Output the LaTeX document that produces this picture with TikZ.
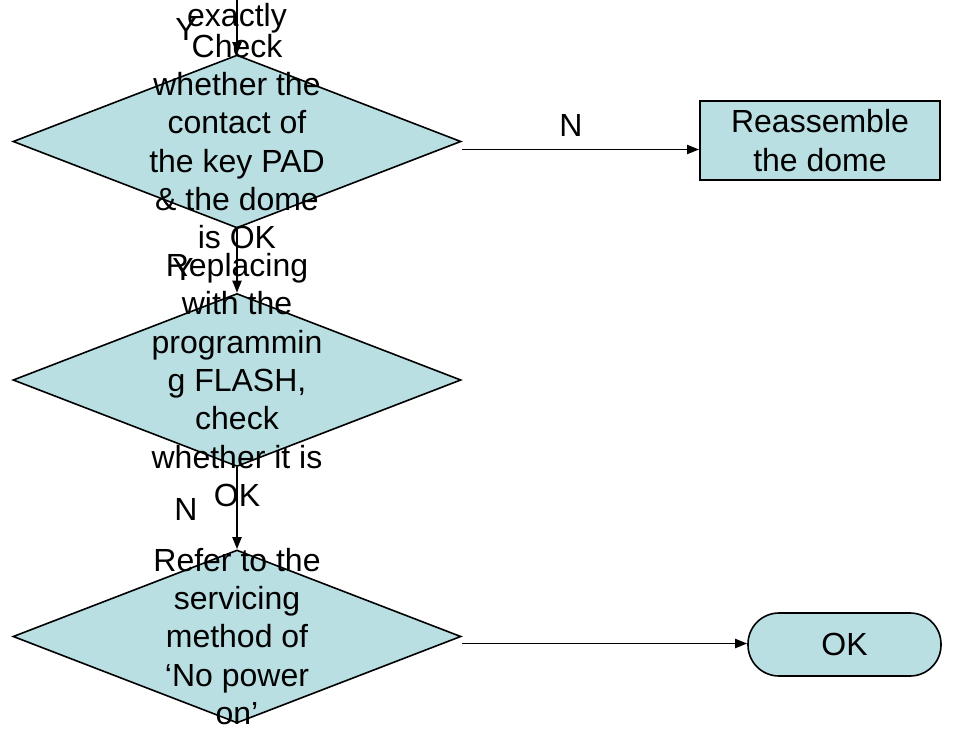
\documentclass[tikz,border=0pt]{standalone}
\usepackage{fontspec}
\setmainfont{Liberation Sans}
\usetikzlibrary{shapes.geometric,arrows.meta}
\definecolor{boxfill}{RGB}{185,223,227}
\begin{document}
\begin{tikzpicture}[x=1pt,y=-1pt,
  every node/.style={font=\fontsize{32}{38.3}\selectfont},
  decision/.style={diamond, draw=black, line width=1.6pt, fill=boxfill,
    minimum width=448pt, minimum height=173pt, inner sep=0pt},
  actionbox/.style={rectangle, draw=black, line width=1.8pt, fill=boxfill,
    minimum width=240pt, minimum height=79pt, inner sep=0pt, align=center},
  endbox/.style={rectangle, rounded corners=31pt, draw=black, line width=1.6pt,
    fill=boxfill, minimum width=193pt, minimum height=63pt, inner sep=0pt},
  flowtext/.style={align=center, inner sep=0pt},
  tag/.style={anchor=base, inner sep=0pt},
  arr/.style={line width=1.9pt, -{Triangle[length=12pt,width=9pt]}}]
\useasboundingbox (0,0) rectangle (963,728);

% shapes
\node[decision] (d1) at (237,141.5) {};
\node[decision] (d2) at (237,380) {};
\node[decision] (d3) at (237,636.5) {};
\node[actionbox] (r1) at (820,140.5) {Reassemble\\the dome};
\node[endbox] (ok) at (844.5,644.5) {OK};

% connectors
\coordinate (entry) at (237,0);
\draw[arr] (entry) -- (d1.north);
\draw[arr] (d1.south) -- (d2.north);
\draw[arr] (d2.south) -- (d3.north);
\draw[arr] ([yshift=-8pt]d1.east) -- ([yshift=-8pt]d1.east -| r1.west);
\draw[arr] ([yshift=-7pt]d3.east) -- ([yshift=-7pt]d3.east -| ok.west);

% texts of the decisions
\node[tag] (tail) at (237,27) {exactly};
\node[flowtext] (t1) at (d1.center) {Check\\whether the\\contact of\\the key PAD\\\& the dome\\is OK};
\node[flowtext] (t2) at (d2.center) {Replacing\\with the\\programmin\\g FLASH,\\check\\whether it is\\OK};
\node[flowtext] (t3) at (d3.center) {Refer to the\\servicing\\method of\\‘No power\\on’};

% branch labels
\node[tag] (y1) at (186,40) {Y};
\node[tag] (n1) at (571,136) {N};
\node[tag] (y2) at (183,280) {Y};
\node[tag] (n2) at (186,520) {N};
\end{tikzpicture}
\end{document}
